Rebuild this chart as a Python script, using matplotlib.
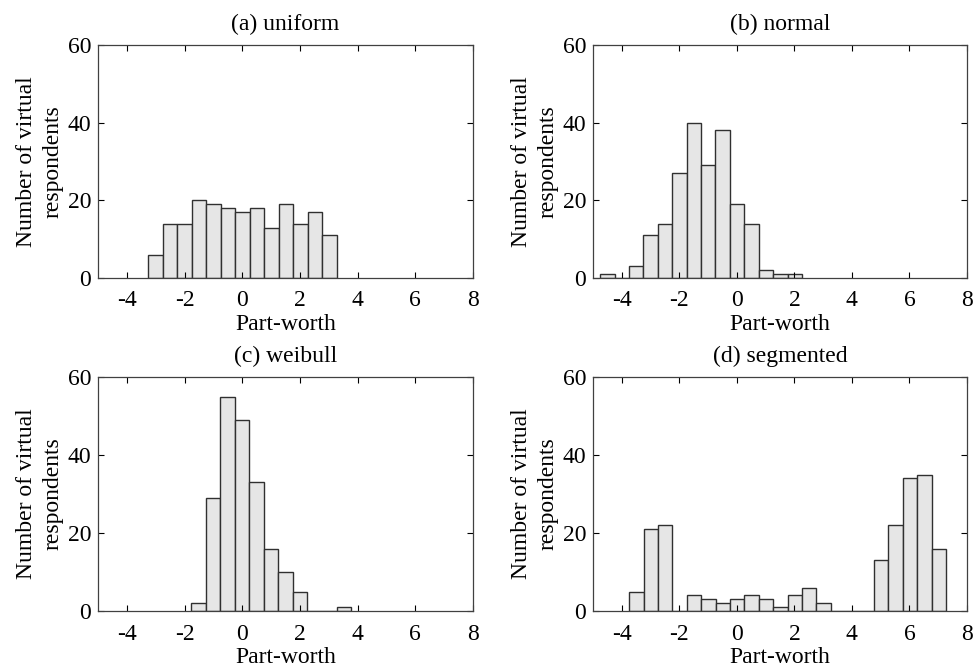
import matplotlib
matplotlib.use("Agg")
import matplotlib.pyplot as plt

plt.rcParams['font.family'] = ['Liberation Serif', 'DejaVu Serif']
plt.rcParams['font.size'] = 17

titles = ["(a) uniform", "(b) normal", "(c) weibull", "(d) segmented"]

# histogram bins: left edge of first bin, bin width, counts per bin
uniform_start = -3.25
uniform_width = 0.502
uniform_counts = [6, 14, 14, 20, 19, 18, 17, 18, 13, 19, 14, 17, 11]

normal_start = -4.75
normal_width = 0.501
normal_counts = [1, 0, 3, 11, 14, 27, 40, 29, 38, 19, 14, 2, 1, 1]

weibull_start = -1.77
weibull_width = 0.504
weibull_counts = [2, 29, 55, 49, 33, 16, 10, 5, 0, 0, 1]

segmented_start = -3.745
segmented_width = 0.5008
segmented_counts = [5, 21, 22, 0, 4, 3, 2, 3, 4, 3, 1, 4, 6, 2, 0, 0, 0,
                    13, 22, 34, 35, 16]

x_ticks = [-4, -2, 0, 2, 4, 6, 8]
y_ticks = [0, 20, 40, 60]

W, H = 976, 670
fig = plt.figure(figsize=(W / 100, H / 100), dpi=100)

# axes boxes in pixels: left, top, right, bottom
boxes = [(98, 45, 473, 278), (593, 45, 967, 278),
         (98, 377, 473, 611), (593, 377, 967, 611)]

series = [(uniform_start, uniform_width, uniform_counts),
          (normal_start, normal_width, normal_counts),
          (weibull_start, weibull_width, weibull_counts),
          (segmented_start, segmented_width, segmented_counts)]

for (l, t, r, b), title, (start, width, counts) in zip(boxes, titles, series):
    ax = fig.add_axes([l / W, 1 - b / H, (r - l) / W, (b - t) / H])
    lefts = [start + i * width for i in range(len(counts))]
    ax.bar(lefts, counts, width=width, align='edge', color='#e6e6e6',
           edgecolor='#303030', linewidth=1.0)
    ax.set_xlim(-5, 8)
    ax.set_ylim(0, 60)
    ax.set_xticks(x_ticks)
    ax.set_yticks(y_ticks)
    ax.set_xticklabels([str(v) for v in x_ticks])
    ax.tick_params(direction='in', top=True, right=True, length=4,
                   width=0.8, labelsize=17)
    ax.tick_params(axis='x', pad=9)
    ax.tick_params(axis='y', pad=5)
    for s in ax.spines.values():
        s.set_linewidth(0.9)
        s.set_color('#404040')
    ax.set_title(title, fontsize=17, pad=11)
    ax.set_xlabel("Part-worth", fontsize=17, labelpad=2)
    ax.set_ylabel("Number of virtual\nrespondents", fontsize=17,
                  labelpad=3, linespacing=1.3)

fig.savefig("out.png", dpi=100)
